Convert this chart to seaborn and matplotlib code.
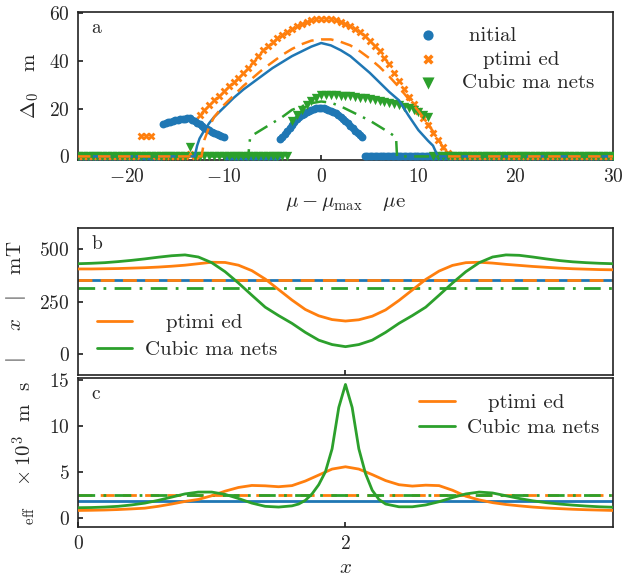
import numpy as np
import pandas as pd
import seaborn as sns
import matplotlib
matplotlib.use('Agg')
from matplotlib import pyplot as plt

# ---------------- panel a: markers ----------------
blue_left_x = np.arange(-16.25, -9.99, 0.25)
blue_left_y = [13.6, 14.0, 14.3, 14.6, 14.9, 15.1, 15.3, 15.5, 15.7, 15.8, 15.9, 16.0, 15.4,
               14.8, 14.1, 13.4, 12.7, 12.1, 11.5, 11.0, 10.4, 9.9, 9.4, 8.9, 8.5, 8.1]
blue_mid_x = np.arange(-4.25, 4.26, 0.25)
blue_mid_y = [7.4, 8.3, 9.3, 10.5, 11.8, 13.2, 14.4, 15.5, 16.4, 17.2, 17.9, 18.5, 19.0, 19.4,
              19.8, 20.1, 20.3, 20.3, 20.1, 19.9, 19.6, 19.2, 18.7, 18.1, 17.4, 16.6, 15.7,
              14.8, 13.8, 12.8, 11.8, 10.8, 9.9, 9.0, 8.2]
blue_zero_x = np.concatenate([np.arange(-25, -16.3, 0.25), np.arange(-9.75, -4.3, 0.25),
                              np.arange(4.5, 30.01, 0.25)])

orange_main_x = np.arange(-12.5, 13.01, 0.5)
orange_main_y = [17.5, 19.5, 21.5, 23.5, 25.5, 27.5, 29.3, 31, 33, 35, 37.2, 39.5, 42, 44.5,
                 46.3, 48, 49.6, 51, 52.3, 53.5, 54.6, 55.5, 56.3, 57, 57.4, 57.6, 57.6, 57.4,
                 57, 56.4, 55.5, 54.5, 53.3, 52, 50.3, 48.5, 46.3, 44, 41.3, 38.5, 35, 31.5,
                 28.2, 25, 22, 19, 16, 13, 10, 7, 4, 1.5]
orange_extra_x = [-18.5, -18.0, -17.5, -13.5]
orange_extra_y = [8.5, 8.6, 8.4, 0.8]
orange_zero_x = np.concatenate([np.arange(-25, -18.9, 0.5), np.arange(-17, -13.9, 0.5), [-13.0],
                                np.arange(13.5, 30.01, 0.5)])

green_main_x = np.arange(-3, 11.01, 0.5)
green_main_y = [15, 17.2, 19.5, 21.5, 23, 24.5, 25.6, 25.8, 25.7, 25.6, 25.5, 25.3, 25.1, 24.9,
                24.6, 24.3, 24, 23.6, 23.3, 22.9, 22.5, 22, 21.5, 20.9, 20.2, 19.4, 18.5, 17.5,
                16.3]
green_extra_x = [-13.5]
green_extra_y = [4.0]
green_zero_x = np.concatenate([np.arange(-25, -13.9, 0.5), np.arange(-13, -3.4, 0.5),
                               np.arange(11.5, 30.01, 0.5)])

# ---------------- panel a: lines ----------------
blue_line_x = [-25, -13, -12.75, -12.5, -12, -11.5, -11, -10, -9, -8, -7, -6, -5, -4, -3, -2, -1,
               0, 1, 2, 3, 4, 5, 6, 7, 8, 9, 10, 11, 11.5, 12, 30]
blue_line_y = [0, 0, 4.5, 7.5, 11, 14, 16.5, 20.5, 24.5, 28, 31, 34, 37, 39.5, 42, 44, 46,
               47.5, 46.5, 44.5, 42, 38.5, 35, 31, 27, 23.5, 17, 11, 6.5, 4.5, 0, 0]
orange_line_x = [-25, -12.3, -12, -11.5, -11, -10, -9, -8, -7, -6, -5, -4, -3, -2, -1, 0, 1, 2,
                 3, 4, 5, 6, 7, 8, 9, 10, 11, 12, 12.5, 12.8, 13, 30]
orange_line_y = [0, 0, 7, 12.5, 16.5, 21.5, 25.5, 29.5, 33, 36.5, 39.5, 42.5, 45, 47, 48.5, 49,
                 49, 48, 46.5, 44, 41, 37.5, 33.5, 29, 24, 19, 13.5, 7.5, 4, 2, 0, 0]
green_line_x = [-25, -7.5, -7.3, -7, -6, -5, -4, -3, -2, -1, 0, 1, 2, 3, 4, 5, 6, 7, 7.7, 7.8, 30]
green_line_y = [0, 0, 8, 9, 11.5, 14, 16.5, 19.5, 21, 22.3, 23, 22.5, 21, 19, 17, 15, 12.5, 10,
                8, 0, 0]

# ---------------- panel b ----------------
x_b = np.round(np.arange(0, 4.01, 0.1), 2)
orange_b = [405, 405, 406, 407, 409, 411, 414, 418, 423, 430, 437, 436, 423, 397, 357, 307, 257,
            212, 182, 164, 157, 163, 180, 210, 255, 305, 355, 395, 422, 435, 437, 433, 427, 422,
            417, 413, 409, 406, 404, 402, 401]
green_b = [430, 432, 435, 440, 446, 453, 461, 468, 472, 462, 435, 392, 338, 280, 223, 183, 146,
           103, 66, 45, 35, 45, 66, 103, 146, 183, 223, 280, 338, 392, 435, 462, 472, 470, 462,
           453, 445, 439, 435, 432, 430]
blue_b_ref = 353
orange_b_ref = 353
green_b_ref = 315

# ---------------- panel c ----------------
x_c_orange = np.round(np.arange(0, 4.01, 0.1), 2)
orange_c = [0.8, 0.82, 0.85, 0.9, 0.97, 1.05, 1.25, 1.5, 1.78, 2.0, 2.4, 2.9, 3.3, 3.52, 3.48,
            3.38, 3.5, 4.0, 4.65, 5.3, 5.55, 5.3, 4.7, 4.05, 3.6, 3.45, 3.55, 3.5, 3.0, 2.35,
            1.95, 1.65, 1.45, 1.3, 1.17, 1.07, 1.0, 0.93, 0.88, 0.84, 0.8]
x_c_green = [0, 0.1, 0.2, 0.3, 0.4, 0.5, 0.6, 0.7, 0.8, 0.9, 1.0, 1.1, 1.2, 1.3, 1.4, 1.5, 1.6,
             1.65, 1.7, 1.75, 1.8, 1.85, 1.9, 1.95, 2.0, 2.05, 2.1, 2.15, 2.2, 2.25, 2.3, 2.4,
             2.5, 2.6, 2.7, 2.8, 2.9, 3.0, 3.1, 3.2, 3.3, 3.4, 3.5, 3.6, 3.7, 3.8, 3.9, 4.0]
green_c = [1.1, 1.12, 1.17, 1.25, 1.4, 1.6, 1.9, 2.25, 2.6, 2.8, 2.8, 2.55, 2.1, 1.6, 1.25, 1.17,
           1.3, 1.5, 1.9, 2.6, 3.6, 5.0, 7.5, 12.0, 14.5, 12.0, 7.5, 4.8, 3.0, 2.0, 1.5, 1.2,
           1.2, 1.4, 1.75, 2.2, 2.6, 2.8, 2.7, 2.4, 2.1, 1.85, 1.65, 1.5, 1.38, 1.28, 1.2, 1.15]
blue_c_ref = 1.83
orange_c_ref = 2.5
green_c_ref = 2.5

leg_names = [' nitial', '   ptimi ed', 'Cubic ma nets']

sns.set_theme(style='ticks')
plt.rcParams.update({
    'font.family': 'serif',
    'font.serif': ['cmr10', 'DejaVu Serif'],
    'mathtext.fontset': 'cm',
    'axes.formatter.use_mathtext': True,
    'axes.linewidth': 1.2,
    'axes.edgecolor': '#222222',
    'xtick.direction': 'in',
    'ytick.direction': 'in',
    'xtick.major.size': 3.5,
    'ytick.major.size': 3.5,
    'xtick.major.pad': 6,
    'ytick.major.pad': 6,
    'xtick.labelsize': 14,
    'ytick.labelsize': 14,
    'axes.labelsize': 15,
})
pal = sns.color_palette('tab10')
c_blue, c_orange, c_green = pal[0], pal[1], pal[2]

fig = plt.figure(figsize=(6.34, 5.78), dpi=100)
ax_a = fig.add_axes([0.123, 0.7232, 0.8438, 0.2561])
ax_b = fig.add_axes([0.123, 0.3512, 0.8438, 0.2543])
ax_c = fig.add_axes([0.123, 0.0882, 0.8438, 0.2578])

# panel a
bx = np.concatenate([blue_zero_x, blue_left_x, blue_mid_x])
by = np.concatenate([np.zeros(len(blue_zero_x)), blue_left_y, blue_mid_y])
ox = np.concatenate([orange_zero_x, orange_extra_x, orange_main_x])
oy = np.concatenate([np.zeros(len(orange_zero_x)), orange_extra_y, orange_main_y])
gx = np.concatenate([green_zero_x, green_extra_x, green_main_x])
gy = np.concatenate([np.zeros(len(green_zero_x)), green_extra_y, green_main_y])

sns.scatterplot(x=bx, y=by, ax=ax_a, color=c_blue, marker='o', s=32, linewidth=0,
                label=leg_names[0], zorder=3)
sns.scatterplot(x=ox, y=oy, ax=ax_a, color=c_orange, marker='X', s=32, linewidth=0,
                label=leg_names[1], zorder=3)
sns.scatterplot(x=gx, y=gy, ax=ax_a, color=c_green, marker='v', s=45, linewidth=0,
                label=leg_names[2], zorder=3)
sns.lineplot(x=blue_line_x, y=blue_line_y, ax=ax_a, color=c_blue, lw=1.8, sort=False,
             estimator=None, zorder=4)
sns.lineplot(x=green_line_x, y=green_line_y, ax=ax_a, color=c_green, lw=1.8, sort=False,
             estimator=None, zorder=4, linestyle=(0, (6, 3, 1, 3)))
sns.lineplot(x=orange_line_x, y=orange_line_y, ax=ax_a, color=c_orange, lw=1.8, sort=False,
             estimator=None, zorder=4, linestyle=(0, (5, 3)))
ax_a.set_xlim(-25, 30)
ax_a.set_ylim(-1.5, 60.5)
ax_a.set_xticks([-20, -10, 0, 10, 20, 30])
ax_a.set_yticks([0, 20, 40, 60])
ax_a.set_xlabel(r'$\mu - \mu_{\mathrm{max}}$   $\mu$e', labelpad=6)
ax_a.set_ylabel(r'$\Delta_0$   m', labelpad=6)
ax_a.legend(loc='upper right', bbox_to_anchor=(1.0, 1.03), frameon=False, fontsize=15,
            handletextpad=0.6, labelspacing=0.25, markerscale=1.3)
ax_a.text(0.025, 0.86, 'a', transform=ax_a.transAxes, fontsize=14)

# panel b
sns.lineplot(x=x_b, y=orange_b, ax=ax_b, color=c_orange, lw=2, label=leg_names[1],
             estimator=None, zorder=3)
sns.lineplot(x=x_b, y=green_b, ax=ax_b, color=c_green, lw=2, label=leg_names[2],
             estimator=None, zorder=3)
ax_b.axhline(blue_b_ref, color=c_blue, lw=2, zorder=2)
ax_b.axhline(orange_b_ref, color=c_orange, lw=2, ls=(0, (5, 3)), zorder=2)
ax_b.axhline(green_b_ref, color=c_green, lw=2, ls=(0, (6, 3, 1, 3)), zorder=2)
ax_b.set_xlim(0, 4)
ax_b.set_ylim(-100, 600)
ax_b.set_xticks([2])
ax_b.set_xticklabels([])
ax_b.set_yticks([0, 250, 500])
ax_b.set_ylabel(r'$|\quad\;\,x\quad|$   mT', labelpad=8)
ax_b.legend(loc='lower left', bbox_to_anchor=(0.0, -0.02), frameon=False, fontsize=15,
            handlelength=1.7, handletextpad=0.6, labelspacing=0.4)
ax_b.text(0.025, 0.86, 'b', transform=ax_b.transAxes, fontsize=14)

# panel c
sns.lineplot(x=x_c_orange, y=orange_c, ax=ax_c, color=c_orange, lw=2, label=leg_names[1],
             estimator=None, zorder=3)
sns.lineplot(x=x_c_green, y=green_c, ax=ax_c, color=c_green, lw=2, label=leg_names[2],
             estimator=None, zorder=3)
ax_c.axhline(blue_c_ref, color=c_blue, lw=2, zorder=2)
ax_c.axhline(orange_c_ref, color=c_orange, lw=2, ls=(0, (5, 3)), zorder=2)
ax_c.axhline(green_c_ref, color=c_green, lw=2, ls=(0, (6, 3, 1, 3)), zorder=2)
ax_c.set_xlim(0, 4)
ax_c.set_ylim(-1.0, 15.2)
ax_c.set_xticks([0, 2])
ax_c.set_yticks([0, 5, 10, 15])
ax_c.set_xlabel(r'$x$', labelpad=4)
ax_c.set_ylabel(r'$_{\mathrm{eff}}\quad\times 10^3$  m  s', labelpad=8)
ax_c.legend(loc='upper right', bbox_to_anchor=(1.01, 1.02), frameon=False, fontsize=15,
            handlelength=1.7, handletextpad=0.6, labelspacing=0.3)
ax_c.text(0.025, 0.86, 'c', transform=ax_c.transAxes, fontsize=14)

for ax in (ax_a, ax_b, ax_c):
    ax.tick_params(top=False, right=False)

fig.savefig('out.png', dpi=100)
